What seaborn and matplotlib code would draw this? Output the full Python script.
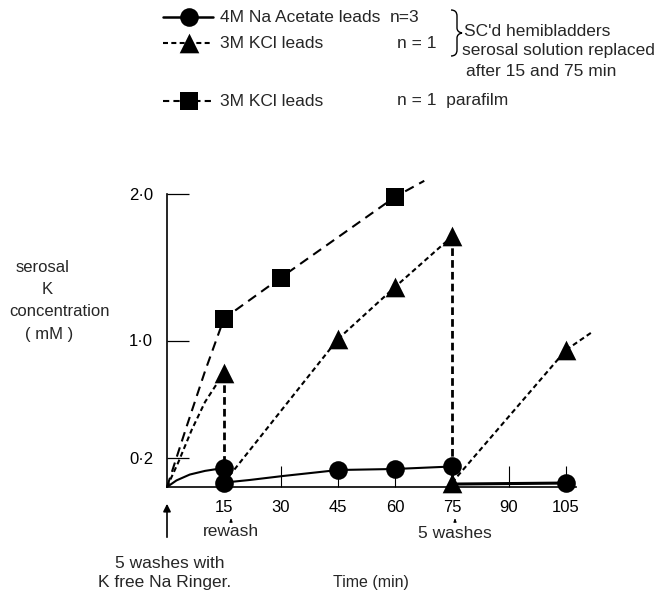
import matplotlib
matplotlib.use("Agg")
import matplotlib.pyplot as plt
from matplotlib.path import Path
from matplotlib.patches import PathPatch
import seaborn as sns

# ---- data -------------------------------------------------------------
time_ticks = [15, 30, 45, 60, 75, 90, 105]
k_ticks = [0.2, 1.0, 2.0]
k_tick_labels = ["0·2", "1·0", "2·0"]

# 4M Na acetate leads (circles), n = 3
acetate_t = [15, 15, 45, 60, 75, 105]
acetate_k = [0.13, 0.03, 0.116, 0.123, 0.14, 0.027]
acetate_run1_t = [0, 2.5, 6, 10, 15]
acetate_run1_k = [0, 0.045, 0.085, 0.11, 0.13]
acetate_run2_t = [15, 21.8, 30.5, 39.4, 45, 60, 75]
acetate_run2_k = [0.03, 0.048, 0.075, 0.10, 0.116, 0.123, 0.14]
acetate_run3_t = [75, 105]
acetate_run3_k = [0.02, 0.027]

# 3M KCl leads (triangles), n = 1
kcl_t = [15, 45, 60, 75, 75, 105]
kcl_k = [0.78, 1.01, 1.365, 1.71, 0.03, 0.935]
kcl_run1_t = [0, 3, 6.5, 10, 15]
kcl_run1_k = [0, 0.17, 0.39, 0.58, 0.78]
kcl_run2_t = [15, 45, 60, 75]
kcl_run2_k = [0.03, 1.01, 1.365, 1.71]
kcl_run3_t = [75, 105, 112]
kcl_run3_k = [0.03, 0.935, 1.06]
# serosal solution replaced: drop from last reading to fresh value
replace_t = [15, 75]
replace_from_k = [0.78, 1.71]
replace_to_k = [0.13, 0.03]

# 3M KCl leads, parafilm (squares), n = 1
parafilm_t = [15, 30, 60]
parafilm_k = [1.15, 1.43, 1.98]
parafilm_run_t = [0, 5, 10, 15, 30, 60, 67.7]
parafilm_run_k = [0, 0.40, 0.79, 1.15, 1.43, 1.98, 2.09]

# ---- style ------------------------------------------------------------
sns.set_style("ticks")
plt.rcParams["font.family"] = ["Liberation Sans", "DejaVu Sans"]
plt.rcParams["lines.scale_dashes"] = False

W, H = 671, 596
fig = plt.figure(figsize=(W / 100, H / 100), dpi=100)

x0_px, x1_px = 167, 600
y0_px, y1_px = 487, 175
px_per_min = 57.0 / 15
px_per_mM = 146.5
ax = fig.add_axes([x0_px / W, (H - y0_px) / H, (x1_px - x0_px) / W, (y0_px - y1_px) / H])
ax.set_xlim(0, (x1_px - x0_px) / px_per_min)
ax.set_ylim(0, (y0_px - y1_px) / px_per_mM)
ax.patch.set_alpha(0)

LONG = (0, (7, 4.5))
SHORT = (0, (3.6, 2.4))
DROP = (0, (5.5, 3))

def curve(t, k, ls, lw=1.5):
    sns.lineplot(x=t, y=k, ax=ax, color="k", linewidth=lw, linestyle=ls,
                 sort=False, estimator=None, clip_on=False, zorder=2)

curve(acetate_run1_t, acetate_run1_k, "-")
curve(acetate_run2_t, acetate_run2_k, "-")
curve(acetate_run3_t, acetate_run3_k, "-", lw=2.2)
curve(kcl_run1_t, kcl_run1_k, SHORT)
curve(kcl_run2_t, kcl_run2_k, SHORT)
curve(kcl_run3_t, kcl_run3_k, SHORT)
curve(parafilm_run_t, parafilm_run_k, LONG)
for t, a, b in zip(replace_t, replace_from_k, replace_to_k):
    curve([t, t], [a, b], DROP, lw=2.0)

def marks(t, k, marker, size):
    sns.scatterplot(x=t, y=k, ax=ax, marker=marker, s=size, color="k",
                    edgecolor="k", linewidth=0, clip_on=False, zorder=4, legend=False)

marks(acetate_t, acetate_k, "o", 180)
marks(kcl_t, kcl_k, "^", 200)
marks(parafilm_t, parafilm_k, "s", 170)

# axes: inward ticks, open frame
sns.despine(ax=ax)
ax.spines["left"].set_bounds(0, 2.0)
ax.spines["bottom"].set_bounds(0, 107.5)
for s in ("left", "bottom"):
    ax.spines[s].set_linewidth(1.2)
    ax.spines[s].set_color("k")
ax.set_xticks(time_ticks)
ax.set_xticklabels([str(t) for t in time_ticks])
ax.set_yticks(k_ticks)
ax.set_yticklabels(k_tick_labels)
ax.tick_params(axis="x", direction="in", length=15, width=0.8, pad=9,
               labelsize=12, colors="k")
ax.tick_params(axis="y", direction="in", length=16, width=0.9, pad=10,
               labelsize=12, colors="k")
ax.set_xlabel("")
ax.set_ylabel("")

# ---- overlay in pixel coordinates for key and annotations -------------
key = fig.add_axes([0, 0, 1, 1], zorder=5)
key.set_xlim(0, W)
key.set_ylim(H, 0)
key.axis("off")
key.patch.set_alpha(0)

FS = 12.5

def key_row(y, ls, marker, size, lw=1.5):
    sns.lineplot(x=[163, 213], y=[y, y], ax=key, color="k", linewidth=lw,
                 linestyle=ls, sort=False, estimator=None)
    sns.scatterplot(x=[189], y=[y], ax=key, marker=marker, s=size, color="k",
                    edgecolor="k", linewidth=0, zorder=4, legend=False)

key_row(17, "-", "o", 180, lw=1.8)
key_row(43, SHORT, "^", 200)
key_row(101, (0, (4.5, 3)), "s", 170)

key.text(220, 17, "4M Na Acetate leads", fontsize=FS, va="center")
key.text(390, 17, "n=3", fontsize=FS, va="center")
key.text(220, 43, "3M KCl leads", fontsize=FS, va="center")
key.text(397, 43, "n = 1", fontsize=FS, va="center")
key.text(220, 101, "3M KCl leads", fontsize=FS, va="center")
key.text(397, 101, "n = 1  parafilm", fontsize=FS, va="center")

# right brace grouping the first two rows
brace = Path(
    [(451, 10), (457, 10), (457, 16), (457, 22),
     (457, 28), (457, 32), (462, 33),
     (457, 34), (457, 38), (457, 44),
     (457, 50), (457, 56), (451, 56)],
    [Path.MOVETO, Path.CURVE3, Path.CURVE3, Path.LINETO,
     Path.LINETO, Path.CURVE3, Path.CURVE3,
     Path.CURVE3, Path.CURVE3, Path.LINETO,
     Path.LINETO, Path.CURVE3, Path.CURVE3])
key.add_patch(PathPatch(brace, fill=False, lw=1.0, ec="k"))
key.text(464, 32, "SC'd hemibladders", fontsize=FS, va="center")
key.text(462, 51, "serosal solution replaced", fontsize=FS, va="center")
key.text(466, 71, "after 15 and 75 min", fontsize=FS, va="center")

# y-axis caption
key.text(43, 267, "serosal", fontsize=12, ha="center", va="center")
key.text(47, 289, "K", fontsize=12, ha="center", va="center")
key.text(59, 311, "concentration", fontsize=12, ha="center", va="center")
key.text(49, 334, "( mM )", fontsize=12, ha="center", va="center")

# time-axis annotations
key.annotate("", xy=(167, 501), xytext=(167, 540),
             arrowprops=dict(arrowstyle="-|>", lw=1.2, color="k", mutation_scale=11))
for xm in (231, 455):
    key.annotate("", xy=(xm, 516), xytext=(xm, 523),
                 arrowprops=dict(arrowstyle="-|>", lw=0.8, color="k", mutation_scale=4))
key.text(231, 532, "rewash", fontsize=FS, ha="center", va="center")
key.text(455, 533, "5 washes", fontsize=FS, ha="center", va="center")
key.text(170, 563, "5 washes with", fontsize=FS, ha="center", va="center")
key.text(165, 583, "K free Na Ringer.", fontsize=FS, ha="center", va="center")
key.text(371, 583, "Time (min)", fontsize=11.5, ha="center", va="center")

fig.savefig("out.png", dpi=100)
